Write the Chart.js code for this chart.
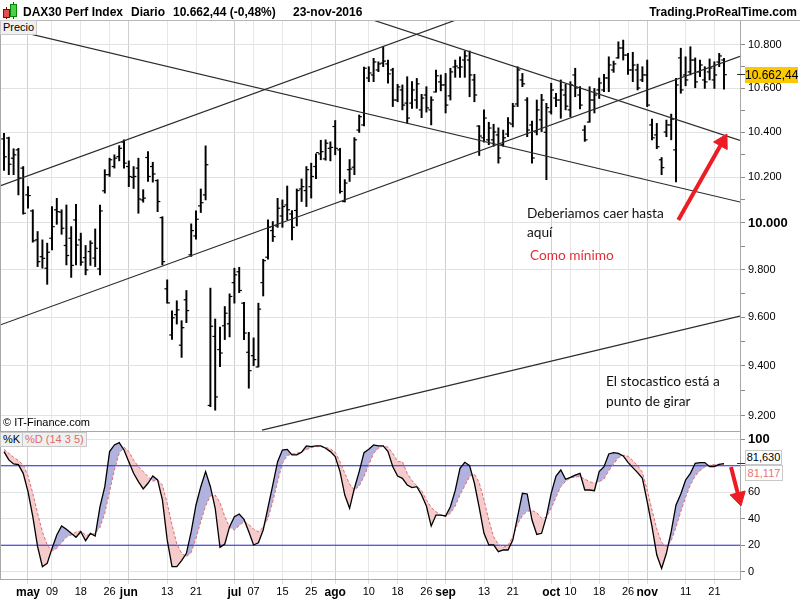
<!DOCTYPE html>
<html>
<head>
<meta charset="utf-8">
<script src="https://cdn.jsdelivr.net/npm/chart.js@4.4.0/dist/chart.umd.min.js"></script>
<style>
  body { margin: 0; background: #fff; font-family: "Liberation Sans", Arial, sans-serif; }
  #wrap { position: relative; width: 800px; height: 600px; overflow: hidden; background: #fff; }
  canvas { position: absolute; left: 0; }
  #price { top: 0; }
  #stoch { top: 430px; }
  .t { position: absolute; white-space: nowrap; }
  .hdr { top: 4px; font-weight: bold; font-size: 12px; line-height: 16px; color: #000; }
  .note { font-family: Lato, "Open Sans", sans-serif; font-size: 13.7px; line-height: 16px; color: #111; }
  .box { position: absolute; font-size: 11px; line-height: 13px; background: #f0f0f0; border: 1px solid #c8c8c8; padding: 0 2px; }
</style>
</head>
<body>
<div id="wrap">
  <canvas id="price" width="800" height="432"></canvas>
  <canvas id="stoch" width="800" height="170"></canvas>

  <!-- header -->
  <div class="t" style="left:6px;top:7px;width:1px;height:12px;background:#800"></div>
  <div class="t" style="left:3px;top:9px;width:5px;height:7px;background:#e05050;border:1px solid #900"></div>
  <div class="t" style="left:13px;top:2px;width:1px;height:17px;background:#060"></div>
  <div class="t" style="left:10px;top:4px;width:5px;height:11px;background:#4cd04c;border:1px solid #080"></div>
  <div class="t hdr" style="left:23px">DAX30 Perf Index</div>
  <div class="t hdr" style="left:131px">Diario</div>
  <div class="t hdr" style="left:173px">10.662,44 (-0,48%)</div>
  <div class="t hdr" style="left:293px">23-nov-2016</div>
  <div class="t hdr" style="right:3px">Trading.ProRealTime.com</div>
  <div class="t" style="left:0;top:20px;width:800px;height:1px;background:#b8b8b8"></div>
  <div class="t" style="left:0;top:20px;width:1px;height:560px;background:#a8a8a8"></div>
  <div class="box" style="left:0;top:20px">Precio</div>
  <div class="t" style="left:3px;top:416px;font-size:11px;line-height:13px">© IT-Finance.com</div>

  <!-- notes -->
  <div class="t note" style="left:527px;top:205px">Deberiamos caer hasta</div>
  <div class="t note" style="left:527px;top:224px">aquí</div>
  <div class="t note" style="left:530px;top:247px;color:#e3303a">Como mínimo</div>
  <div class="t note" style="left:606px;top:373px">El stocastico está a</div>
  <div class="t note" style="left:606px;top:393px">punto de girar</div>

  <!-- price badge -->
  <div class="t" style="left:737px;top:74px;width:9px;height:1px;background:#333"></div>
  <div class="t" style="left:745px;top:67px;width:53px;height:16px;background:#fcc800;font-size:12px;line-height:16px;text-align:center">10.662,44</div>

  <!-- stoch legend and badges -->
  <div class="box" style="left:0;top:432px">%K</div>
  <div class="box" style="left:22px;top:432px;color:#e06a6a">%D (14 3 5)</div>
  <div class="t" style="left:737px;top:463px;width:9px;height:1px;background:#333"></div>
  <div class="t" style="left:745px;top:450px;width:35px;height:13px;border:1px solid #c8c8c8;background:#fff;font-size:11px;line-height:13px;text-align:center">81,630</div>
  <div class="t" style="left:745px;top:465px;width:36px;height:14px;border:1px solid #c8c8c8;background:#fff;color:#e87474;font-size:11px;line-height:14px;text-align:center">81,117</div>
</div>

<script>
Chart.defaults.font.family = "Liberation Sans";
Chart.defaults.color = "#000";

// x axis: trading-day index (0 = 25 apr 2016), labels as on the chart
const xTickIdx = [5, 10, 16, 22, 26, 34, 40, 48, 52, 58, 64, 69, 76, 82, 88, 92, 100, 106, 114, 118, 124, 130, 134, 142, 148];
const xTickLabels = ["may", "09", "18", "26", "jun", "13", "21", "jul", "07", "15", "25", "ago", "10", "18", "26", "sep", "13", "21", "oct", "10", "18", "26", "nov", "11", "21"];
const monthTicks = [5, 26, 48, 69, 92, 114, 134];
const xMin = -0.8333, xMax = 153.333;

const priceTicks = [9200, 9300, 9400, 9500, 9600, 9700, 9800, 9900, 10000, 10100, 10200, 10300, 10400, 10500, 10600, 10700, 10800];
const stochTicks = [0, 10, 20, 30, 40, 50, 60, 70, 80, 90, 100];
const stochLevels = [20, 80];

const high = [10395, 10378, 10326, 10328, 10247, 10158, 10057, 9963, 9927, 9913,
  10071, 10107, 10057, 10078, 9984, 10081, 9956, 9903, 9923, 9974,
  10078, 10233, 10284, 10299, 10340, 10366, 10272, 10247, 10284, 10145,
  10313, 10266, 10189, 10027, 9757, 9627, 9669, 9586, 9712, 9996,
  10052, 10148, 10339, 9722, 9593, 9560, 9645, 9698, 9806, 9810,
  9662, 9538, 9515, 9659, 9844, 10013, 10006, 10107, 10100, 10161,
  10054, 10148, 10192, 10247, 10262, 10303, 10364, 10366, 10357, 10453,
  10328, 10189, 10278, 10376, 10478, 10697, 10699, 10738, 10722, 10792,
  10730, 10692, 10618, 10615, 10653, 10630, 10645, 10572, 10607, 10561,
  10684, 10661, 10668, 10692, 10730, 10745, 10772, 10772, 10664, 10430,
  10501, 10445, 10436, 10420, 10410, 10466, 10531, 10699, 10668, 10557,
  10450, 10546, 10572, 10531, 10623, 10577, 10638, 10618, 10630, 10692,
  10607, 10430, 10607, 10599, 10647, 10664, 10745, 10725, 10815, 10823,
  10761, 10766, 10711, 10699, 10730, 10459, 10440, 10287, 10455, 10482,
  10645, 10785, 10745, 10792, 10740, 10730, 10699, 10735, 10722, 10761, 10738];

const low = [10230, 10211, 10211, 10122, 10038, 10064, 9917, 9813, 9806, 9738,
  9884, 9994, 9951, 9820, 9767, 9820, 9818, 9778, 9818, 9813,
  9778, 10130, 10203, 10240, 10272, 10240, 10158, 10150, 10042, 10090,
  10181, 10178, 10049, 9820, 9659, 9509, 9572, 9435, 9578, 9856,
  9930, 10045, 10100, 9236, 9222, 9397, 9508, 9519, 9659, 9703,
  9508, 9310, 9401, 9396, 9689, 9844, 9920, 9981, 9981, 10013,
  9927, 9987, 10093, 10071, 10108, 10193, 10277, 10275, 10272, 10299,
  10130, 10091, 10181, 10211, 10399, 10429, 10630, 10630, 10676, 10699,
  10623, 10516, 10538, 10501, 10440, 10508, 10508, 10466, 10491, 10433,
  10582, 10588, 10487, 10546, 10650, 10650, 10650, 10561, 10538, 10296,
  10356, 10344, 10337, 10262, 10337, 10380, 10424, 10516, 10607, 10380,
  10262, 10388, 10403, 10189, 10482, 10516, 10463, 10501, 10470, 10561,
  10505, 10359, 10445, 10487, 10553, 10584, 10584, 10673, 10738, 10730,
  10664, 10630, 10592, 10630, 10516, 10366, 10326, 10211, 10380, 10366,
  10179, 10577, 10611, 10661, 10602, 10653, 10599, 10638, 10599, 10699, 10596];

const open = [10370, 10374, 10284, 10321, 10240, 10122, 10052, 9927, 9855, 9806,
  9934, 10057, 10047, 9903, 9934, 10013, 9927, 9851, 9877, 9849,
  9803, 10140, 10211, 10247, 10291, 10356, 10247, 10199, 10240, 10100,
  10287, 10247, 10185, 10023, 9719, 9527, 9611, 9485, 9673, 9863,
  9944, 10074, 10122, 9241, 9521, 9467, 9565, 9573, 9745, 9791,
  9659, 9456, 9442, 9396, 9745, 9853, 9967, 9987, 10030, 10078,
  10039, 10054, 10148, 10141, 10158, 10247, 10303, 10281, 10328, 10426,
  10321, 10093, 10233, 10244, 10410, 10433, 10647, 10661, 10684, 10716,
  10712, 10684, 10546, 10592, 10532, 10532, 10546, 10501, 10569, 10501,
  10583, 10629, 10615, 10565, 10698, 10694, 10730, 10730, 10638, 10428,
  10375, 10366, 10366, 10388, 10344, 10392, 10437, 10528, 10638, 10546,
  10433, 10401, 10456, 10400, 10492, 10555, 10546, 10569, 10501, 10661,
  10569, 10410, 10446, 10546, 10592, 10592, 10647, 10684, 10740, 10786,
  10753, 10684, 10684, 10638, 10661, 10433, 10388, 10277, 10401, 10433,
  10321, 10740, 10661, 10675, 10730, 10675, 10638, 10675, 10638, 10721, 10730];

const close = [10290, 10257, 10299, 10196, 10042, 10119, 9923, 9834, 9848, 9874,
  9984, 10049, 9977, 9860, 9818, 9905, 9832, 9799, 9913, 9891,
  10052, 10211, 10277, 10284, 10328, 10262, 10203, 10203, 10104, 10108,
  10203, 10214, 10093, 9834, 9660, 9598, 9631, 9557, 9628, 9967,
  10016, 10088, 10255, 9563, 9275, 9453, 9617, 9687, 9778, 9712,
  9535, 9381, 9426, 9634, 9838, 9981, 9941, 10064, 10071, 10057,
  9981, 10141, 10158, 10233, 10203, 10309, 10313, 10351, 10332, 10328,
  10137, 10174, 10236, 10366, 10470, 10692, 10670, 10721, 10712, 10725,
  10666, 10546, 10606, 10523, 10464, 10592, 10620, 10555, 10510, 10546,
  10657, 10615, 10523, 10675, 10702, 10698, 10749, 10661, 10569, 10383,
  10464, 10419, 10401, 10285, 10375, 10442, 10518, 10684, 10620, 10410,
  10285, 10501, 10546, 10511, 10592, 10546, 10592, 10518, 10615, 10601,
  10523, 10366, 10546, 10569, 10624, 10647, 10707, 10712, 10786, 10753,
  10684, 10707, 10601, 10661, 10523, 10375, 10335, 10242, 10433, 10459,
  10615, 10592, 10638, 10730, 10629, 10707, 10629, 10693, 10661, 10749, 10662.44];

const stochK = [90.7, 84.4, 81.4, 80.9, 74.3, 60.5, 41.6, 18.9, 3.8, 6.3,
  17.6, 27.7, 34.5, 32, 29, 26, 30.2, 23.4, 29, 27,
  49.1, 64.2, 90.7, 95.7, 97.5, 91.9, 83.1, 74.3, 68, 62.5,
  66.8, 72.3, 69.3, 54.2, 24, 3.8, 3.8, 8.3, 13.9, 30.2,
  50.4, 64.2, 75.6, 64.2, 47.9, 18.4, 20.9, 34, 41.6, 43.6,
  39.5, 30.2, 20.2, 21.9, 31.5, 48.6, 65.5, 83.1, 91.9, 92.4,
  88.2, 88.2, 90.2, 95, 94.5, 95, 95, 93.2, 90.7, 86.9,
  75.6, 57.9, 47.9, 63, 75.6, 89.9, 92.4, 95.7, 95, 95,
  90.7, 79.3, 72.3, 70.5, 65.5, 63.5, 64.2, 57.9, 49.6, 34.5,
  42.8, 42.8, 42.1, 49.1, 61.2, 78.1, 82.6, 80.1, 66.8, 48.6,
  29, 20.2, 20.2, 15.1, 16.4, 16.4, 23.9, 41.6, 59.2, 58.7,
  39, 28.2, 29, 41.6, 59.2, 72.3, 76.8, 69.8, 71.3, 73,
  74.3, 61.7, 61.7, 61.2, 75.6, 79.3, 88.9, 89.9, 89.4, 87.4,
  82.6, 78.6, 74.8, 70.5, 52.9, 34, 12.6, 2.5, 13.9, 30.2,
  50.4, 58.7, 69.3, 74.3, 81.9, 82.4, 82.4, 79.3, 79.3, 81.1, 81.63];

const stochD = [92.4, 89.4, 86.4, 83.9, 80.6, 72.3, 59.2, 44.1, 30.2, 20.2,
  15.6, 17.6, 21.9, 26.2, 27.7, 30, 30.7, 27.7, 27.7, 29,
  33.5, 44.1, 60.5, 76.8, 89.4, 94, 90.7, 84.4, 79.3, 75.6,
  71.8, 68.3, 69.3, 65.5, 51.6, 35.3, 20.9, 13.9, 11.3, 14.4,
  25.2, 37.8, 49.6, 57.2, 57.9, 52.1, 41.6, 33.5, 31.5, 34.8,
  37.8, 35.8, 32, 30.2, 33.5, 40.3, 52.9, 68, 81.9, 87.7,
  88.9, 89.4, 90.7, 92.2, 93.7, 94.5, 94.5, 94, 92.7, 90.2,
  83.1, 74.3, 66.2, 61.7, 64.7, 71.8, 80.6, 89.4, 93.2, 95,
  94, 89.4, 83.1, 83.1, 74.3, 68.8, 65, 61.2, 54.2, 48.6,
  45.3, 42.8, 41.6, 44.1, 49.6, 57.9, 65, 71.8, 73.8, 67.3,
  54.2, 39, 26.4, 20.7, 18.4, 19.9, 26.4, 36, 42.3, 45.6,
  46.1, 44.6, 40.3, 41.1, 47.9, 56.2, 64.2, 68.3, 70.8, 71.5,
  71.8, 70, 68, 66.8, 68, 70, 76.3, 81.4, 86.1, 87.9,
  87.2, 83.9, 80.1, 75.1, 61.7, 46.6, 32.2, 22.2, 18.9, 23.4,
  33.5, 45.3, 56.2, 65.5, 72.3, 76.3, 79.1, 80.4, 80.9, 81.1, 81.117];

// hand-drawn lines on the chart: [day index, price] end points
const trendLines = [
  [[-0.8333, 10161], [153.333, 11417]],
  [[-0.8333, 9568], [153.333, 10747]],
  [[53.75, 9143], [153.333, 9605]],
  [[-0.8333, 10885], [153.333, 10091]],
  [[61.67, 11031], [153.333, 10363]]
];
const arrowPrice = [[140.48, 10013], [149.7, 10357]];
const arrowStoch = [[151.46, 79.1], [153.08, 56.2]];

const monthSet = new Set(monthTicks);
const xGridColor = ctx => ctx.tick && monthSet.has(ctx.tick.value) ? "#cfcfcf" : "#e6e6e6";
const setXTicks = scale => { scale.ticks = xTickIdx.map(v => ({ value: v })); };
const noPad = s => { s.paddingLeft = 0; s.paddingRight = 0; s.paddingTop = 0; s.paddingBottom = 0; };
const fmtPrice = v => Math.floor(v / 1000) + "." + String(v % 1000).padStart(3, "0");
const pts = arr => arr.map(p => ({ x: p[0], y: p[1] }));

const red = "#ed1c24";
const arrowSet = (pairs, rot) => ({
  type: "line",
  data: pts(pairs),
  borderColor: red,
  borderWidth: 4,
  borderCapStyle: "butt",
  pointRadius: [0, 9],
  pointHoverRadius: 0,
  pointStyle: "triangle",
  rotation: rot,
  pointBackgroundColor: red,
  pointBorderColor: red,
  pointBorderWidth: 1,
  clip: false,
  order: 0
});

const days = high.map((h, i) => i);

new Chart(document.getElementById("price"), {
  type: "line",
  data: {
    datasets: [
      arrowSet(arrowPrice, 29),
      ...trendLines.map(l => ({
        type: "line", data: pts(l), borderColor: "#2b2b2b", borderWidth: 1.2, pointRadius: 0, order: 2
      })),
      {
        type: "line", data: days.map(i => ({ x: i - 0.3, y: open[i] })), showLine: false,
        pointStyle: "line", pointRadius: 1.3, pointBorderWidth: 1.2, pointBorderColor: "#000", order: 3
      },
      {
        type: "line", data: days.map(i => ({ x: i + 0.3, y: close[i] })), showLine: false,
        pointStyle: "line", pointRadius: 1.3, pointBorderWidth: 1.2, pointBorderColor: "#000", order: 3
      },
      {
        type: "bar", data: days.map(i => ({ x: i, y: [low[i], high[i]] })),
        backgroundColor: "#000", barThickness: 1.3, borderWidth: 0, order: 4
      }
    ]
  },
  options: {
    responsive: false,
    animation: false,
    events: [],
    layout: { autoPadding: false, padding: { top: 20, bottom: 1, left: 0, right: 0 } },
    plugins: { legend: { display: false }, tooltip: { enabled: false } },
    scales: {
      x: {
        type: "linear", min: xMin, max: xMax, offset: false,
        afterBuildTicks: setXTicks,
        afterFit: s => { s.height = 0; noPad(s); },
        ticks: { display: false },
        grid: { offset: false, drawTicks: false, color: xGridColor },
        border: { color: "#a8a8a8" }
      },
      y: {
        type: "logarithmic", position: "right", min: 9139.4, max: 10917.4,
        afterBuildTicks: s => { s.ticks = priceTicks.map(v => ({ value: v })); },
        afterFit: s => { s.width = 60; noPad(s); },
        ticks: {
          padding: 3,
          color: "#000",
          callback: v => v % 200 === 0 ? fmtPrice(v) : "",
          font: ctx => ({ size: ctx.tick && ctx.tick.value === 10000 ? 13 : 11, weight: ctx.tick && ctx.tick.value === 10000 ? "bold" : "normal" })
        },
        grid: {
          tickLength: 5,
          tickColor: "#8a8a8a",
          color: ctx => ctx.tick && ctx.tick.value % 200 === 0 ? "#e2e2e2" : "rgba(0,0,0,0)"
        },
        border: { color: "#a8a8a8" }
      }
    }
  }
});

new Chart(document.getElementById("stoch"), {
  type: "line",
  data: {
    datasets: [
      arrowSet(arrowStoch, 165.6),
      {
        data: days.map(i => ({ x: i, y: stochK[i] })),
        borderColor: "#000", borderWidth: 1.3, pointRadius: 0,
        fill: { target: 2, above: "#b2b2df", below: "#f6cbcb" },
        order: 1
      },
      {
        data: days.map(i => ({ x: i, y: stochD[i] })),
        borderColor: "#e46a6a", borderWidth: 1, borderDash: [3, 2], pointRadius: 0,
        order: 2
      },
      ...stochLevels.map(v => ({
        data: [{ x: xMin, y: v }, { x: xMax, y: v }],
        borderColor: "#2424e0", borderWidth: 1, pointRadius: 0, order: 3
      }))
    ]
  },
  options: {
    responsive: false,
    animation: false,
    events: [],
    layout: { autoPadding: false, padding: { top: 2, bottom: 0, left: 0, right: 0 } },
    plugins: { legend: { display: false }, tooltip: { enabled: false }, filler: { drawTime: "beforeDatasetsDraw" } },
    scales: {
      x: {
        type: "linear", min: xMin, max: xMax, offset: false,
        afterBuildTicks: setXTicks,
        afterFit: s => { s.height = 21; noPad(s); },
        ticks: {
          autoSkip: false, maxRotation: 0, padding: 1, color: "#000",
          callback: (v, i) => xTickLabels[i],
          font: ctx => monthSet.has(ctx.tick && ctx.tick.value) ? { size: 12, weight: "bold" } : { size: 11, weight: "normal" }
        },
        grid: { offset: false, tickLength: 5, tickColor: "#dcdcdc", color: xGridColor },
        border: { color: "#a8a8a8" }
      },
      y: {
        type: "linear", position: "right", min: -5.5, max: 105.5,
        afterBuildTicks: s => { s.ticks = stochTicks.map(v => ({ value: v })); },
        afterFit: s => { s.width = 60; noPad(s); },
        ticks: {
          padding: 3, color: "#000",
          callback: v => (v % 20 === 0 && v !== 80) ? String(v) : "",
          font: ctx => ctx.tick && ctx.tick.value === 100 ? { size: 13, weight: "bold" } : { size: 11, weight: "normal" }
        },
        grid: {
          tickLength: 5, tickColor: "#8a8a8a",
          color: ctx => ctx.tick && ctx.tick.value % 20 === 0 ? "#e2e2e2" : "rgba(0,0,0,0)"
        },
        border: { color: "#a8a8a8" }
      }
    }
  }
});
</script>
</body>
</html>
